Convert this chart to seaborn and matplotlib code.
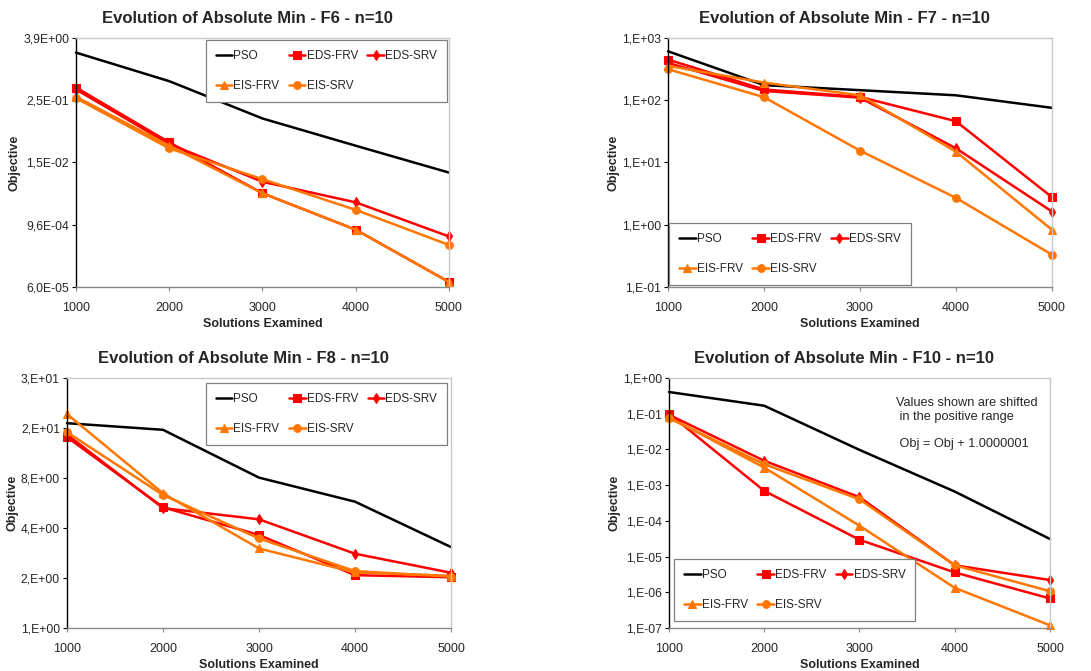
import matplotlib
matplotlib.use('Agg')
import matplotlib.pyplot as plt
import seaborn as sns
import numpy as np
from matplotlib.ticker import FixedLocator, FuncFormatter, NullLocator

# x values shared by all panels
solutions = [1000, 2000, 3000, 4000, 5000]
methods = ['PSO', 'EDS-FRV', 'EDS-SRV', 'EIS-FRV', 'EIS-SRV']

# F6
f6_pso = [2.05, 0.574, 0.109, 0.0324, 0.0098]
f6_eds_frv = [0.433, 0.0376, 0.0039, 7.7e-4, 7.5e-5]
f6_eds_srv = [0.396, 0.035, 0.0065, 0.0026, 5.7e-4]
f6_eis_frv = [0.286, 0.0324, 0.0039, 7.7e-4, 7.5e-5]
f6_eis_srv = [0.27, 0.0288, 0.0073, 0.00186, 3.9e-4]
f6_ticks = [6.0e-5, 9.6e-4, 1.536e-2, 0.24576, 3.93216]

# F7
f7_pso = [611, 175, 145, 120, 75.5]
f7_eds_frv = [450, 149, 113, 46, 2.77]
f7_eds_srv = [398, 141, 110, 16.9, 1.63]
f7_eis_frv = [356, 192, 120, 14.9, 0.83]
f7_eis_srv = [315, 112, 15.5, 2.7, 0.33]
f7_ticks = [0.1, 1, 10, 100, 1000]

# F8
f8_pso = [17.1, 15.6, 8.04, 5.76, 3.07]
f8_eds_frv = [14.1, 5.33, 3.63, 2.08, 2.02]
f8_eds_srv = [14.6, 5.27, 4.51, 2.80, 2.15]
f8_eis_frv = [19.4, 6.47, 3.01, 2.16, 2.06]
f8_eis_srv = [15.1, 6.32, 3.46, 2.2, 2.04]
f8_ticks = [1, 2, 4, 8, 16, 32]

# F10 (shifted values)
f10_pso = [0.405, 0.167, 9.7e-3, 6.6e-4, 3.1e-5]
f10_eds_frv = [0.0996, 6.9e-4, 2.95e-5, 3.6e-6, 6.7e-7]
f10_eds_srv = [0.093, 4.8e-3, 4.6e-4, 5.7e-6, 2.2e-6]
f10_eis_frv = [0.079, 3.1e-3, 7.3e-5, 1.33e-6, 1.19e-7]
f10_eis_srv = [0.075, 3.85e-3, 4.0e-4, 5.7e-6, 1.07e-6]
f10_ticks = [1e-7, 1e-6, 1e-5, 1e-4, 1e-3, 1e-2, 1e-1, 1]

RED = '#FF0000'
ORANGE = '#FF7700'
styles = {
    'PSO': dict(color='black', marker=None, markersize=0),
    'EDS-FRV': dict(color=RED, marker='s', markersize=5.5),
    'EDS-SRV': dict(color=RED, marker='d', markersize=5),
    'EIS-FRV': dict(color=ORANGE, marker='^', markersize=5.5),
    'EIS-SRV': dict(color=ORANGE, marker='o', markersize=5.5),
}

sns.set_theme(style='white')
plt.rcParams['font.family'] = ['Liberation Sans', 'DejaVu Sans']


def excel_fmt(decimals):
    def f(v, pos):
        if decimals == 0:
            s = '{:#.0E}'.format(v)
        else:
            s = '{:.{d}E}'.format(v, d=decimals)
        return s.replace('.', ',')
    return FuncFormatter(f)


panels = [
    dict(title='Evolution of Absolute Min - F6 - n=10',
         series=[f6_pso, f6_eds_frv, f6_eds_srv, f6_eis_frv, f6_eis_srv],
         ticks=f6_ticks, dec=1, pos=[0.0697, 0.5723, 0.3418, 0.3711],
         leg=dict(loc='upper right', bbox_to_anchor=(0.995, 0.992))),
    dict(title='Evolution of Absolute Min - F7 - n=10',
         series=[f7_pso, f7_eds_frv, f7_eds_srv, f7_eis_frv, f7_eis_srv],
         ticks=f7_ticks, dec=0, pos=[0.6123, 0.5723, 0.3519, 0.3711],
         leg=dict(loc='lower left', bbox_to_anchor=(0.003, 0.008))),
    dict(title='Evolution of Absolute Min - F8 - n=10',
         series=[f8_pso, f8_eds_frv, f8_eds_srv, f8_eis_frv, f8_eis_srv],
         ticks=f8_ticks, dec=0, pos=[0.0614, 0.0641, 0.3520, 0.3726],
         leg=dict(loc='upper right', bbox_to_anchor=(0.99, 0.98))),
    dict(title='Evolution of Absolute Min - F10 - n=10',
         series=[f10_pso, f10_eds_frv, f10_eds_srv, f10_eis_frv, f10_eis_srv],
         ticks=f10_ticks, dec=0, pos=[0.6132, 0.0641, 0.3492, 0.3726],
         leg=dict(loc='lower left', bbox_to_anchor=(0.013, 0.028))),
]

fig = plt.figure(figsize=(10.91, 6.71), dpi=100)

for p in panels:
    ax = fig.add_axes(p['pos'])
    for name, vals in zip(methods, p['series']):
        st = styles[name]
        sns.lineplot(x=solutions, y=vals, ax=ax, color=st['color'],
                     marker=st['marker'], markersize=st['markersize'],
                     markeredgecolor=st['color'], markeredgewidth=0.8,
                     linewidth=1.8, clip_on=False, label=name)
    ax.set_yscale('log')
    ax.set_ylim(p['ticks'][0], p['ticks'][-1])
    ax.set_xlim(solutions[0], solutions[-1])
    ax.yaxis.set_major_locator(FixedLocator(p['ticks']))
    ax.yaxis.set_minor_locator(NullLocator())
    ax.yaxis.set_major_formatter(excel_fmt(p['dec']))
    ax.set_xticks(solutions)
    ax.set_xticklabels([str(s) for s in solutions])

    ax.tick_params(axis='y', labelsize=8.7, length=3, width=0.8, color='black',
                   direction='out', pad=2, left=True)
    ax.tick_params(axis='x', labelsize=9, length=3, width=0.8, color='#888888',
                   direction='out', pad=7.5, bottom=True)
    for side in ['top', 'right']:
        ax.spines[side].set_color('#C8C8C8')
        ax.spines[side].set_linewidth(1.0)
    ax.spines['left'].set_color('black')
    ax.spines['left'].set_linewidth(1.0)
    ax.spines['bottom'].set_color('#888888')
    ax.spines['bottom'].set_linewidth(1.0)
    ax.grid(False)

    ax.set_title(p['title'], fontsize=12, fontweight='bold', x=0.46, pad=11)
    ax.set_xlabel('Solutions Examined', fontsize=9, fontweight='bold', labelpad=3)
    ax.set_ylabel('Objective', fontsize=9, fontweight='bold', labelpad=2)

    h, l = ax.get_legend_handles_labels()
    hd = dict(zip(l, h))
    order = ['PSO', 'EIS-FRV', 'EDS-FRV', 'EIS-SRV', 'EDS-SRV']
    leg = ax.legend([hd[k] for k in order], order, ncol=3, fontsize=8.5,
                    frameon=True, fancybox=False, shadow=False, framealpha=1,
                    edgecolor='#808080', borderaxespad=0, handlelength=1.4,
                    handletextpad=0.1, columnspacing=0.8, labelspacing=1.55,
                    borderpad=0.85, **p['leg'])
    leg.get_frame().set_linewidth(0.9)

    if p is panels[3]:
        ax.text(0.596, 0.925,
                'Values shown are shifted\n in the positive range\n\n Obj = Obj + 1.0000001',
                transform=ax.transAxes, fontsize=9.2, va='top', ha='left',
                linespacing=1.2)

fig.savefig('out.png', dpi=100)
